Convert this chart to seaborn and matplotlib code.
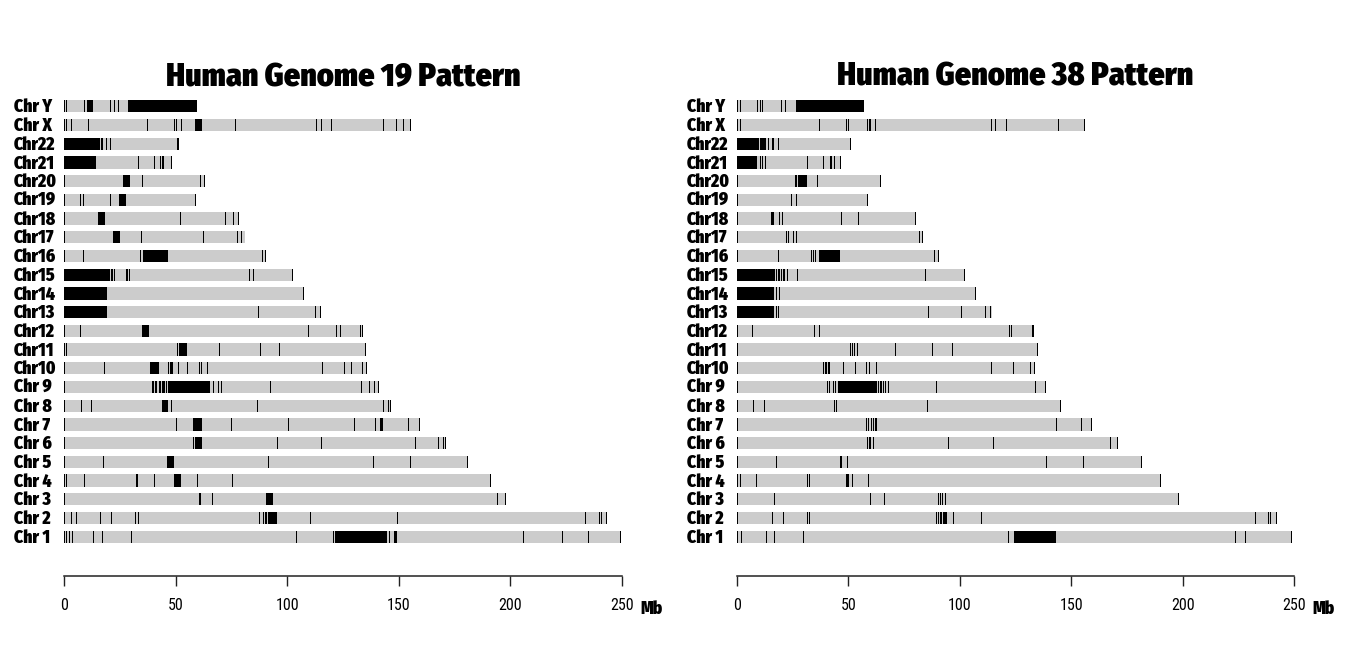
import numpy as np
import pandas as pd
import matplotlib
matplotlib.use("Agg")
import matplotlib.pyplot as plt
import matplotlib.transforms as mtrans
import seaborn as sns

# ---------------- data ----------------
chrom_labels = ["Chr Y", "Chr X", "Chr22", "Chr21", "Chr20", "Chr19", "Chr18", "Chr17",
                "Chr16", "Chr15", "Chr14", "Chr13", "Chr12", "Chr11", "Chr10", "Chr 9",
                "Chr 8", "Chr 7", "Chr 6", "Chr 5", "Chr 4", "Chr 3", "Chr 2", "Chr 1"]

# chromosome lengths (Mb), same order as chrom_labels
hg19_len = [59.4, 155.3, 51.3, 48.1, 63.0, 59.1, 78.1, 81.2, 90.4, 102.5, 107.35, 115.2,
            133.85, 135.0, 135.5, 141.2, 146.36, 159.14, 171.1, 180.9, 191.15, 198.0, 243.2, 249.25]
hg38_len = [57.2, 156.04, 50.8, 46.7, 64.44, 58.6, 80.37, 83.26, 90.34, 101.99, 107.04, 114.36,
            133.28, 135.09, 133.8, 138.39, 145.14, 159.35, 170.81, 181.54, 190.21, 198.3, 242.19, 248.96]

# gap regions (start, end) in Mb, per chromosome
hg19_gaps = {
    "Chr Y": [(0, 0.3), (0.9, 1.2), (8.9, 9.2), (10.2, 13.1), (20.5, 20.8), (22.4, 22.7), (24.2, 24.5), (28.8, 59.4)],
    "Chr X": [(0, 0.3), (1.0, 1.3), (3.0, 3.3), (10.8, 11.1), (37.4, 37.7), (49.2, 49.5), (50.4, 50.7), (52.6, 52.9),
              (58.6, 61.7), (76.8, 77.1), (113.1, 113.4), (115.3, 115.6), (119.8, 120.1), (143.0, 143.3),
              (148.9, 149.2), (151.9, 152.2), (155.0, 155.3)],
    "Chr22": [(0, 16.0), (16.8, 17.1), (19.0, 19.3), (20.5, 20.8), (50.5, 50.8), (51.0, 51.3)],
    "Chr21": [(0, 10.6), (10.8, 14.3), (33.2, 33.5), (40.3, 40.6), (42.9, 43.2), (43.7, 44.0), (44.4, 44.7), (47.9, 48.1)],
    "Chr20": [(0, 0.3), (26.4, 29.7), (35.1, 35.4), (61.0, 61.3), (62.6, 62.9)],
    "Chr19": [(0, 0.3), (7.1, 7.4), (8.5, 8.8), (20.5, 20.8), (24.6, 28.0), (58.8, 59.1)],
    "Chr18": [(0, 0.3), (15.4, 18.5), (52.1, 52.4), (72.3, 72.6), (75.8, 76.1), (77.8, 78.1)],
    "Chr17": [(0, 0.3), (21.8, 22.0), (22.3, 25.3), (34.7, 35.0), (62.3, 62.6), (77.5, 77.8), (79.5, 79.8)],
    "Chr16": [(0, 0.3), (8.6, 8.9), (33.9, 34.2), (35.2, 46.4), (88.5, 88.8), (90.1, 90.4)],
    "Chr15": [(0, 20.6), (21.0, 21.3), (21.6, 21.9), (22.6, 22.9), (28.0, 28.3), (29.2, 29.5), (82.8, 83.1),
              (84.7, 85.0), (102.2, 102.5)],
    "Chr14": [(0, 19.1), (107.05, 107.35)],
    "Chr13": [(0, 19.1), (86.7, 87.0), (112.3, 112.6), (114.6, 115.0)],
    "Chr12": [(0, 0.3), (7.1, 7.4), (34.9, 37.9), (109.2, 109.5), (121.7, 122.0), (123.5, 123.8), (132.4, 132.7),
              (133.55, 133.85)],
    "Chr11": [(0, 0.3), (1.0, 1.3), (50.8, 51.1), (51.4, 51.7), (52.0, 55.0), (69.3, 69.6), (87.7, 88.0),
              (96.2, 96.5), (134.7, 135.0)],
    "Chr10": [(0, 0.3), (17.9, 18.2), (38.5, 38.8), (39.2, 42.6), (46.6, 46.9), (47.5, 48.2), (48.6, 48.9),
              (51.1, 51.4), (54.9, 55.2), (60.4, 60.7), (61.6, 61.9), (64.1, 64.4), (115.8, 116.1),
              (125.5, 125.8), (128.5, 128.8), (133.3, 133.6), (135.2, 135.5)],
    "Chr 9": [(0, 0.3), (39.6, 40.1), (40.6, 41.0), (41.2, 41.5), (42.6, 42.8), (43.2, 43.4), (43.8, 44.0),
              (44.4, 44.6), (45.0, 45.2), (45.6, 45.8), (46.6, 65.4), (66.8, 67.1), (68.9, 69.3), (70.5, 70.8),
              (92.5, 92.8), (132.9, 133.2), (136.7, 137.0), (138.8, 139.1), (140.9, 141.2)],
    "Chr 8": [(0, 0.3), (7.8, 8.1), (12.0, 12.3), (43.9, 46.8), (48.1, 48.4), (86.5, 86.8), (142.7, 143.0),
              (145.2, 145.5), (146.06, 146.36)],
    "Chr 7": [(0, 0.3), (50.4, 50.7), (57.9, 61.9), (74.6, 74.9), (100.4, 100.7), (130.0, 130.3), (139.2, 139.5),
              (141.8, 142.0), (142.4, 142.8), (153.9, 154.2), (158.84, 159.14)],
    "Chr 6": [(0, 0.3), (58.0, 58.3), (58.6, 61.9), (95.6, 95.9), (115.3, 115.6), (157.4, 157.7), (167.6, 167.9),
              (169.8, 170.1), (170.8, 171.1)],
    "Chr 5": [(0, 0.3), (17.5, 17.8), (46.3, 49.4), (91.4, 91.7), (138.5, 138.8), (154.9, 155.2), (180.6, 180.9)],
    "Chr 4": [(0, 0.3), (1.0, 1.3), (9.0, 9.3), (32.2, 32.5), (32.7, 33.0), (40.4, 40.7), (49.3, 52.6),
              (59.6, 59.9), (75.3, 75.6), (190.85, 191.15)],
    "Chr 3": [(0, 0.3), (60.4, 60.7), (60.9, 61.2), (66.1, 66.4), (90.5, 93.5), (193.8, 194.1), (197.7, 198.0)],
    "Chr 2": [(0, 0.3), (3.2, 3.5), (5.2, 5.5), (16.3, 16.6), (21.2, 21.5), (31.7, 32.0), (33.2, 33.5),
              (87.4, 87.7), (89.3, 89.7), (90.0, 90.4), (90.6, 90.9), (91.6, 95.3), (110.1, 110.4),
              (149.4, 149.7), (233.6, 233.9), (239.6, 239.9), (240.5, 240.8), (242.9, 243.2)],
    "Chr 1": [(0, 0.3), (1.0, 1.3), (2.3, 2.6), (3.5, 3.8), (13.1, 13.6), (17.2, 17.5), (29.9, 30.2),
              (103.8, 104.1), (120.6, 120.9), (121.4, 144.9), (145.7, 146.0), (147.9, 149.0), (205.6, 206.1),
              (223.3, 223.6), (234.7, 235.0), (248.95, 249.25)],
}

hg38_gaps = {
    "Chr Y": [(0, 0.3), (1.4, 1.7), (9.0, 9.3), (10.2, 10.7), (11.3, 11.6), (19.9, 20.2), (21.4, 21.7), (26.5, 57.2)],
    "Chr X": [(0, 0.3), (1.4, 1.7), (36.8, 37.1), (49.1, 49.4), (49.6, 49.9), (58.5, 58.8), (59.1, 59.4),
              (59.6, 60.0), (61.8, 62.1), (114.2, 114.5), (116.0, 116.3), (120.6, 120.9), (144.1, 144.4),
              (155.74, 156.04)],
    "Chr22": [(0, 10.0), (10.3, 12.9), (13.9, 14.2), (15.5, 15.8), (16.2, 16.5), (18.2, 18.5), (50.5, 50.8)],
    "Chr21": [(0, 9.1), (10.2, 10.5), (11.0, 11.3), (12.5, 12.8), (31.6, 31.9), (38.6, 38.9), (41.6, 41.9),
              (42.4, 42.7), (43.4, 43.7), (46.4, 46.7)],
    "Chr20": [(0, 0.3), (25.9, 26.2), (26.6, 26.9), (27.3, 31.2), (36.1, 36.4), (64.1, 64.44)],
    "Chr19": [(0, 0.3), (24.4, 24.7), (26.7, 27.0), (58.3, 58.6)],
    "Chr18": [(0, 0.3), (15.3, 16.6), (18.8, 19.1), (20.0, 20.3), (46.9, 47.2), (54.4, 54.7), (80.07, 80.37)],
    "Chr17": [(0, 0.3), (21.9, 22.2), (22.8, 23.1), (25.2, 25.5), (26.4, 26.7), (81.6, 81.9), (82.96, 83.26)],
    "Chr16": [(0, 0.3), (18.2, 18.5), (33.0, 33.3), (34.1, 34.4), (35.2, 35.5), (36.6, 37.0), (37.4, 46.2),
              (88.3, 88.6), (90.04, 90.34)],
    "Chr15": [(0, 17.0), (17.5, 17.8), (18.2, 18.5), (19.0, 19.3), (19.8, 20.1), (20.5, 20.8), (21.3, 21.6),
              (22.3, 22.6), (27.0, 27.3), (84.3, 84.6), (101.69, 101.99)],
    "Chr14": [(0, 16.5), (17.7, 18.0), (18.9, 19.2), (106.74, 107.04)],
    "Chr13": [(0, 16.5), (17.7, 18.0), (18.4, 18.7), (85.8, 86.1), (100.7, 101.0), (111.5, 111.8), (113.6, 113.9)],
    "Chr12": [(0, 0.3), (6.8, 7.1), (34.6, 34.9), (36.8, 37.2), (121.9, 122.2), (123.2, 123.5), (132.2, 132.5),
              (132.98, 133.28)],
    "Chr11": [(0, 0.3), (50.7, 51.2), (51.5, 52.0), (52.3, 52.6), (53.8, 54.5), (70.8, 71.1), (87.6, 87.9),
              (96.3, 96.6), (134.79, 135.09)],
    "Chr10": [(0, 0.3), (38.5, 39.2), (39.6, 40.4), (40.8, 41.9), (47.6, 47.9), (52.9, 53.2), (58.1, 58.4),
              (59.1, 59.4), (62.3, 62.6), (114.2, 114.5), (123.9, 124.2), (131.4, 131.7), (133.5, 133.8)],
    "Chr 9": [(0, 0.3), (40.2, 40.5), (41.2, 41.5), (43.1, 43.4), (43.9, 44.2), (45.2, 62.7), (63.3, 63.6),
              (64.0, 64.3), (64.7, 65.0), (65.5, 65.8), (66.3, 66.6), (67.7, 68.0), (89.5, 89.8),
              (133.6, 133.9), (138.09, 138.39)],
    "Chr 8": [(0, 0.3), (7.2, 7.5), (12.0, 12.3), (43.6, 43.9), (44.5, 44.9), (85.3, 85.6), (144.84, 145.14)],
    "Chr 7": [(0, 0.3), (57.8, 58.1), (58.8, 59.2), (60.0, 60.5), (61.0, 61.5), (61.9, 62.7), (143.4, 143.7),
              (154.2, 154.5), (159.05, 159.35)],
    "Chr 6": [(0, 0.3), (58.4, 58.7), (59.4, 60.0), (61.0, 61.4), (94.8, 95.1), (114.9, 115.2), (167.3, 167.6),
              (170.51, 170.81)],
    "Chr 5": [(0, 0.3), (17.7, 18.0), (46.4, 47.0), (49.4, 49.8), (138.9, 139.2), (155.3, 155.6), (181.24, 181.54)],
    "Chr 4": [(0, 0.3), (1.4, 1.7), (8.7, 9.0), (31.6, 31.9), (32.4, 32.7), (49.1, 49.6), (49.9, 50.4),
              (51.4, 51.7), (58.8, 59.1), (189.91, 190.21)],
    "Chr 3": [(0, 0.3), (16.7, 17.0), (59.9, 60.2), (65.9, 66.2), (90.3, 90.7), (91.0, 91.6), (92.0, 92.4),
              (93.3, 93.6), (198.0, 198.3)],
    "Chr 2": [(0, 0.3), (15.9, 16.2), (20.7, 21.0), (31.2, 31.5), (32.4, 32.7), (89.2, 89.6), (90.0, 90.5),
              (91.0, 92.2), (92.5, 93.6), (93.8, 94.1), (97.0, 97.3), (109.3, 109.6), (232.7, 233.0),
              (238.4, 238.7), (239.4, 239.7), (241.89, 242.19)],
    "Chr 1": [(0, 0.4), (1.6, 1.9), (12.9, 13.2), (16.7, 17.0), (29.4, 29.7), (121.7, 122.1), (124.2, 143.1),
              (223.4, 223.7), (228.2, 228.5), (248.66, 248.96)],
}

titles = ["Human Genome 19 Pattern", "Human Genome 38 Pattern"]
x_ticks = [0, 50, 100, 150, 200, 250]
unit_label = "Mb"

# ---------------- style ----------------
sns.set_style("white")
plt.rcParams["font.family"] = ["Roboto Condensed", "DejaVu Sans"]
plt.rcParams["text.color"] = "black"
plt.rcParams["xtick.color"] = "black"
plt.rcParams["axes.labelcolor"] = "black"

HEAVY = ["Fira Sans Condensed", "DejaVu Sans"]
BAR_H = 0.66
GREY = "#cccccc"

fig = plt.figure(figsize=(13.68, 6.64), dpi=100)
W, H = 1368.0, 664.0
ax_bottom = (H - 576) / H
ax_height = (576 - 96.9) / H
axes = [fig.add_axes([64 / W, ax_bottom, 558 / W, ax_height]),
        fig.add_axes([737 / W, ax_bottom, 557 / W, ax_height])]
label_x = [14 / W, 686.5 / W]

for ax, lengths, gaps, title, lx in zip(axes, [hg19_len, hg38_len], [hg19_gaps, hg38_gaps], titles, label_x):
    df = pd.DataFrame({"chrom": chrom_labels, "length": lengths})
    sns.barplot(data=df, x="length", y="chrom", order=chrom_labels, orient="h",
                color=GREY, saturation=1, width=BAR_H, ax=ax, linewidth=0)

    rows = []
    for c, lst in gaps.items():
        for s, e in lst:
            rows.append((chrom_labels.index(c), s, e))
    gdf = pd.DataFrame(rows, columns=["pos", "start", "end"])
    widths = np.maximum(gdf["end"] - gdf["start"], 0.45)
    ax.barh(gdf["pos"], widths, left=gdf["start"], height=BAR_H, color="black", linewidth=0)

    ax.set_xlim(0, 250)
    ax.set_ylim(25.1, -0.5)
    ax.set_xlabel("")
    ax.set_ylabel("")
    ax.set_yticks([])
    ax.set_xticks(x_ticks)
    ax.set_xticklabels([str(t) for t in x_ticks], fontsize=11.5)
    ax.tick_params(axis="x", length=7.5, width=1, color="#222222", pad=8.5, bottom=True)
    for sp in ["top", "right", "left"]:
        ax.spines[sp].set_visible(False)
    ax.spines["bottom"].set_color("#222222")
    ax.spines["bottom"].set_linewidth(1.1)

    ax.set_title(title, fontsize=23, fontweight="black", family=HEAVY, pad=8)

    tr = mtrans.blended_transform_factory(fig.transFigure, ax.transData)
    for i, lab in enumerate(chrom_labels):
        ax.text(lx, i + 0.33, lab, transform=tr, ha="left", va="baseline",
                fontsize=12.5, fontweight="black", family=HEAVY)

    ax.annotate(unit_label, xy=(258.3, 0), xycoords=("data", "axes fraction"),
                xytext=(0, -23.5), textcoords="offset points", ha="left", va="center",
                fontsize=12.5, fontweight="black", family=HEAVY, annotation_clip=False)

fig.savefig("out.png", dpi=100)
